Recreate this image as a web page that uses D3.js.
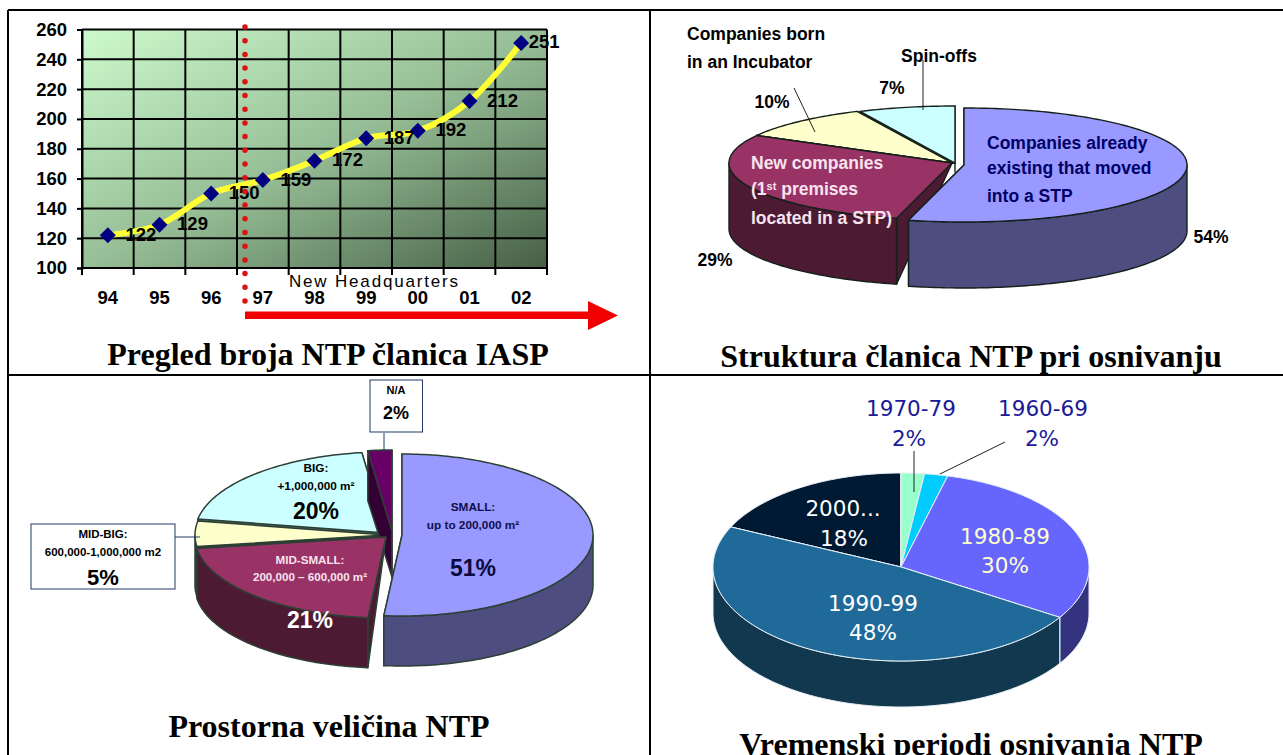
<!DOCTYPE html>
<html>
<head>
<meta charset="utf-8">
<script src="https://cdn.jsdelivr.net/npm/d3@7"></script>
<style>
html, body { margin: 0; padding: 0; background: #fff; overflow: hidden; }
svg { display: block; }
</style>
</head>
<body>
<script>
const width = 1283, height = 755;

// line chart
const years = ["94", "95", "96", "97", "98", "99", "00", "01", "02"];
const members = [122, 129, 150, 159, 172, 187, 192, 212, 251];
const yTicks = [100, 120, 140, 160, 180, 200, 220, 240, 260];

// pie: structure at founding
const structureNames = ["Companies already existing", "New companies", "Companies born in an Incubator", "Spin-offs"];
const structureShares = [54, 29, 10, 7];

// pie: size (the source labels only add up to 99)
const sizeNames = ["SMALL", "MID-SMALL", "MID-BIG", "BIG", "N/A"];
const sizeShares = [51, 21, 5, 20, 2];

// pie: founding period
const periodNames = ["1970-79", "1960-69", "1980-89", "1990-99", "2000..."];
const periodShares = [2, 2, 30, 48, 18];

const svg = d3.select("body").append("svg")
    .attr("width", width)
    .attr("height", height);

const defs = svg.append("defs");
const plotGradient = defs.append("linearGradient")
    .attr("id", "plotFill")
    .attr("x1", "0%").attr("y1", "0%")
    .attr("x2", "100%").attr("y2", "100%");
plotGradient.append("stop").attr("offset", "0%").attr("stop-color", "#cdfacd");
plotGradient.append("stop").attr("offset", "50%").attr("stop-color", "#97bf97");
plotGradient.append("stop").attr("offset", "100%").attr("stop-color", "#465f46");

// small text helper, all labels go through this
function label(x, y, str, size, opts = {}) {
    return svg.append("text")
        .attr("x", x)
        .attr("y", y)
        .attr("dy", "0.35em")
        .attr("text-anchor", opts.anchor || "middle")
        .attr("font-family", opts.family || "'Liberation Sans', Arial, sans-serif")
        .attr("font-weight", opts.weight || "bold")
        .attr("font-size", size)
        .attr("fill", opts.fill || "#000")
        .text(str);
}

function leader(x1, y1, x2, y2, color = "#222") {
    svg.append("line")
        .attr("x1", x1).attr("y1", y1)
        .attr("x2", x2).attr("y2", y2)
        .attr("stroke", color)
        .attr("stroke-width", 1);
}

// ---- line chart ----
const plot = { left: 82, right: 547, top: 29.5, bottom: 268 };

const x = d3.scaleBand().domain(years).range([plot.left, plot.right]);
const y = d3.scaleLinear().domain([100, 260]).range([plot.bottom, plot.top]);

svg.append("rect")
    .attr("x", plot.left)
    .attr("y", plot.top)
    .attr("width", plot.right - plot.left)
    .attr("height", plot.bottom - plot.top)
    .attr("fill", "url(#plotFill)");

const yAxis = svg.append("g")
    .attr("transform", `translate(${plot.left},0)`)
    .call(d3.axisLeft(y).tickValues(yTicks).tickSize(5).tickPadding(10));
yAxis.select(".domain").attr("stroke-width", 2);
yAxis.selectAll("line").attr("stroke-width", 2);
yAxis.selectAll("text")
    .attr("font-family", "'Liberation Sans', Arial, sans-serif")
    .attr("font-weight", "bold")
    .attr("font-size", 18.5);

// horizontal grid
svg.append("g").selectAll("line")
    .data(yTicks)
    .join("line")
    .attr("x1", plot.left)
    .attr("x2", plot.right)
    .attr("y1", d => y(d))
    .attr("y2", d => y(d))
    .attr("stroke", "#000")
    .attr("stroke-width", 2);

// vertical grid sits on the band edges and pokes out under the plot
const edges = years.map(d => x(d)).concat(plot.right);
svg.append("g").selectAll("line")
    .data(edges)
    .join("line")
    .attr("x1", d => d)
    .attr("x2", d => d)
    .attr("y1", plot.top)
    .attr("y2", plot.bottom + 7)
    .attr("stroke", "#000")
    .attr("stroke-width", 2);

const memberLine = d3.line()
    .x((d, i) => x(years[i]) + x.bandwidth() / 2)
    .y(d => y(d))
    .curve(d3.curveCatmullRom);

svg.append("path")
    .attr("d", memberLine(members))
    .attr("fill", "none")
    .attr("stroke", "#ffff33")
    .attr("stroke-width", 6);

svg.append("g").selectAll("path")
    .data(members)
    .join("path")
    .attr("d", d3.symbol(d3.symbolDiamond2, 163))
    .attr("transform", (d, i) => `translate(${x(years[i]) + x.bandwidth() / 2},${y(d)})`)
    .attr("fill", "#000080");

members.forEach((d, i) => {
    const dx = i === members.length - 1 ? 23 : 33;
    label(x(years[i]) + x.bandwidth() / 2 + dx, y(d) - 1, d, 18.5);
});

years.forEach(d => label(x(d) + x.bandwidth() / 2, 298, d, 18.5));

label(289, 281, "New Headquarters", 17, { anchor: "start", weight: "normal" })
    .attr("textLength", 169)
    .attr("lengthAdjust", "spacing");

// dotted marker for the move
svg.append("line")
    .attr("x1", 245).attr("x2", 245)
    .attr("y1", 27).attr("y2", 303)
    .attr("stroke", "#dd1111")
    .attr("stroke-width", 5.5)
    .attr("stroke-linecap", "round")
    .attr("stroke-dasharray", "0,13.7");

svg.append("path")
    .attr("d", "M245,311.5 L588,311.5 L588,301 L618,315.5 L588,330 L588,319 L245,319 Z")
    .attr("fill", "#f00000");

// ---- 3D pies ----
const pieLayout = d3.pie().sort(null).value(d => d);

function rimPoints(a0, a1) {
    const n = Math.max(2, Math.ceil((a1 - a0) / 0.02));
    return d3.range(n + 1).map(i => a0 + (a1 - a0) * i / n);
}

function pie3d(cfg) {
    const arcs = pieLayout(cfg.values);
    const pt = (a, dy = 0) => [cfg.rx * Math.sin(a), -cfg.ry * Math.cos(a) + dy];
    const line = d3.line();
    const g = svg.append("g").attr("transform", `translate(${cfg.cx},${cfg.cy})`);

    cfg.order.forEach(i => {
        const a = arcs[i];
        const [sx, sy] = cfg.shifts[i];
        const s = g.append("g").attr("transform", `translate(${sx},${sy})`);
        const paint = (d, fill) => s.append("path")
            .attr("d", d)
            .attr("fill", fill)
            .attr("stroke", cfg.stroke)
            .attr("stroke-width", cfg.strokeWidth)
            .attr("stroke-linejoin", "round");

        // the two cut faces; they taper to the apex except for a pulled out thin slice
        const apexDrop = cfg.fullCut === i ? cfg.depth - 4 : 0;
        [a.startAngle, a.endAngle].forEach(t => {
            paint(line([[0, 0], pt(t), pt(t, cfg.depth), [0, apexDrop]]) + "Z", cfg.walls[i]);
        });

        // curved wall, front half only
        const w0 = Math.max(a.startAngle, Math.PI / 2);
        const w1 = Math.min(a.endAngle, Math.PI * 1.5);
        if (w1 > w0) {
            const angles = rimPoints(w0, w1);
            const outer = angles.map(t => pt(t));
            const lower = angles.slice().reverse().map(t => pt(t, cfg.depth));
            paint(line(outer.concat(lower)) + "Z", cfg.walls[i]);
        }

        const top = rimPoints(a.startAngle, a.endAngle).map(t => pt(t));
        paint(line([[0, 0]].concat(top)) + "Z", cfg.tops[i]);
    });
}

// structure pie
pie3d({
    cx: 952, cy: 163, rx: 223, ry: 57, depth: 66,
    values: structureShares,
    tops: ["#9999ff", "#993366", "#ffffcc", "#ccffff"],
    walls: ["#4d4d80", "#4d1a33", "#80806a", "#668080"],
    shifts: [[12, 2], [0, 0], [0, 0], [3, 0]],
    order: [3, 2, 1, 0],
    stroke: "#14201a",
    strokeWidth: 1.4
});

leader(923, 60, 923, 110);
leader(794, 88, 815, 132);
label(687, 34, "Companies born", 17.5, { anchor: "start" });
label(687, 62, "in an Incubator", 17.5, { anchor: "start" });
label(939, 56, "Spin-offs", 17.5);
label(892, 88, "7%", 17.5);
label(772, 102, "10%", 17.5);
label(1211, 237, "54%", 17.5);
label(715, 260, "29%", 17.5);

["Companies already", "existing that moved", "into a STP"].forEach((t, i) => {
    label(987, [143, 168, 196][i], t, 17.5, { anchor: "start", fill: "#000066" });
});

const pink = "#f7e3ee";
label(751, 163, "New companies", 17.5, { anchor: "start", fill: pink });
const premises = label(751, 189, "(1", 17.5, { anchor: "start", fill: pink });
premises.append("tspan").attr("font-size", 11).attr("dy", -5).text("st");
premises.append("tspan").attr("dy", 5).text(" premises");
label(751, 218, "located in a STP)", 17.5, { anchor: "start", fill: pink });

// size pie
pie3d({
    cx: 386, cy: 535, rx: 191, ry: 81, depth: 50,
    values: sizeShares,
    tops: ["#9999ff", "#993366", "#ffffcc", "#ccffff", "#660066"],
    walls: ["#4d4d80", "#4d1a33", "#2f3a30", "#668080", "#330033"],
    shifts: [[16, 0], [0, 2], [0, 0], [0, -2], [6, -4]],
    order: [3, 2, 4, 1, 0],
    fullCut: 4,
    stroke: "#2d4036",
    strokeWidth: 1.5
});

leader(384, 433, 384, 450, "#1f3864");
leader(175, 537, 200, 537, "#1f3864");

svg.append("g").selectAll("rect")
    .data([[370, 380, 52.5, 52], [31, 524, 144, 65]])
    .join("rect")
    .attr("x", d => d[0])
    .attr("y", d => d[1])
    .attr("width", d => d[2])
    .attr("height", d => d[3])
    .attr("fill", "#fff")
    .attr("stroke", "#1f3864")
    .attr("stroke-width", 1);

label(396, 390, "N/A", 11);
label(396, 413, "2%", 18);
label(103, 534, "MID-BIG:", 11.5);
label(103, 552, "600,000-1,000,000 m2", 11.5);
label(103, 577, "5%", 22);
label(316, 468, "BIG:", 11.8);
label(316, 486, "+1,000,000 m²", 11.8);
label(316, 511, "20%", 23);
label(473, 507, "SMALL:", 11.8, { fill: "#10104a" });
label(473, 525, "up to 200,000 m²", 11.8, { fill: "#10104a" });
label(473, 568, "51%", 23, { fill: "#0a0a40" });
label(310, 560, "MID-SMALL:", 11.6, { fill: pink });
label(310, 577, "200,000 – 600,000 m²", 11.6, { fill: pink });
label(310, 620, "21%", 23, { fill: "#fff" });

// period pie
pie3d({
    cx: 901, cy: 567, rx: 188, ry: 94, depth: 46,
    values: periodShares,
    tops: ["#99ffcc", "#00ccff", "#6666ff", "#1f6a99", "#001a33"],
    walls: ["#4d8066", "#006680", "#33337f", "#12384f", "#000d1a"],
    shifts: [[0, 0], [0, 0], [0, 0], [0, 0], [0, 0]],
    order: [4, 0, 1, 2, 3],
    stroke: "#e8f0f4",
    strokeWidth: 1
});

leader(914, 451, 914, 492);
leader(1005, 442, 940, 474);

const verdana = "'DejaVu Sans', Verdana, sans-serif";
const pieText = { family: verdana, weight: "normal" };
label(911, 408, periodNames[0], 21.5, { ...pieText, fill: "#1a1a99" });
label(909, 438, "2%", 21.5, { ...pieText, fill: "#1a1a99" });
label(1043, 408, periodNames[1], 21.5, { ...pieText, fill: "#1a1a99" });
label(1042, 438, "2%", 21.5, { ...pieText, fill: "#1a1a99" });
label(843, 508, periodNames[4], 21.5, { ...pieText, fill: "#fff" });
label(844, 538, "18%", 21.5, { ...pieText, fill: "#fff" });
label(1005, 536, periodNames[2], 21.5, { ...pieText, fill: "#ffffcc" });
label(1005, 565, "30%", 21.5, { ...pieText, fill: "#ffffcc" });
label(873, 603, periodNames[3], 21.5, { ...pieText, fill: "#fff" });
label(873, 632, "48%", 21.5, { ...pieText, fill: "#fff" });

// ---- table frame and captions ----
const frame = [
    [8, 10, 1283, 10],
    [8, 375, 1283, 375],
    [8, 10, 8, 755],
    [650, 10, 650, 755]
];
svg.append("g").selectAll("line")
    .data(frame)
    .join("line")
    .attr("x1", d => d[0])
    .attr("y1", d => d[1])
    .attr("x2", d => d[2])
    .attr("y2", d => d[3])
    .attr("stroke", "#000")
    .attr("stroke-width", 2);

// the last caption runs off the page in the source as well
const captions = [
    ["Pregled broja NTP članica IASP", 328, 365],
    ["Struktura članica NTP pri osnivanju", 971, 367],
    ["Prostorna veličina NTP", 329, 737],
    ["Vremenski periodi osnivanja NTP", 971, 755]
];
svg.append("g").selectAll("text")
    .data(captions)
    .join("text")
    .attr("x", d => d[1])
    .attr("y", d => d[2])
    .attr("text-anchor", "middle")
    .attr("font-family", "'Liberation Serif', 'Times New Roman', serif")
    .attr("font-weight", "bold")
    .attr("font-size", 32)
    .text(d => d[0]);
</script>
</body>
</html>
